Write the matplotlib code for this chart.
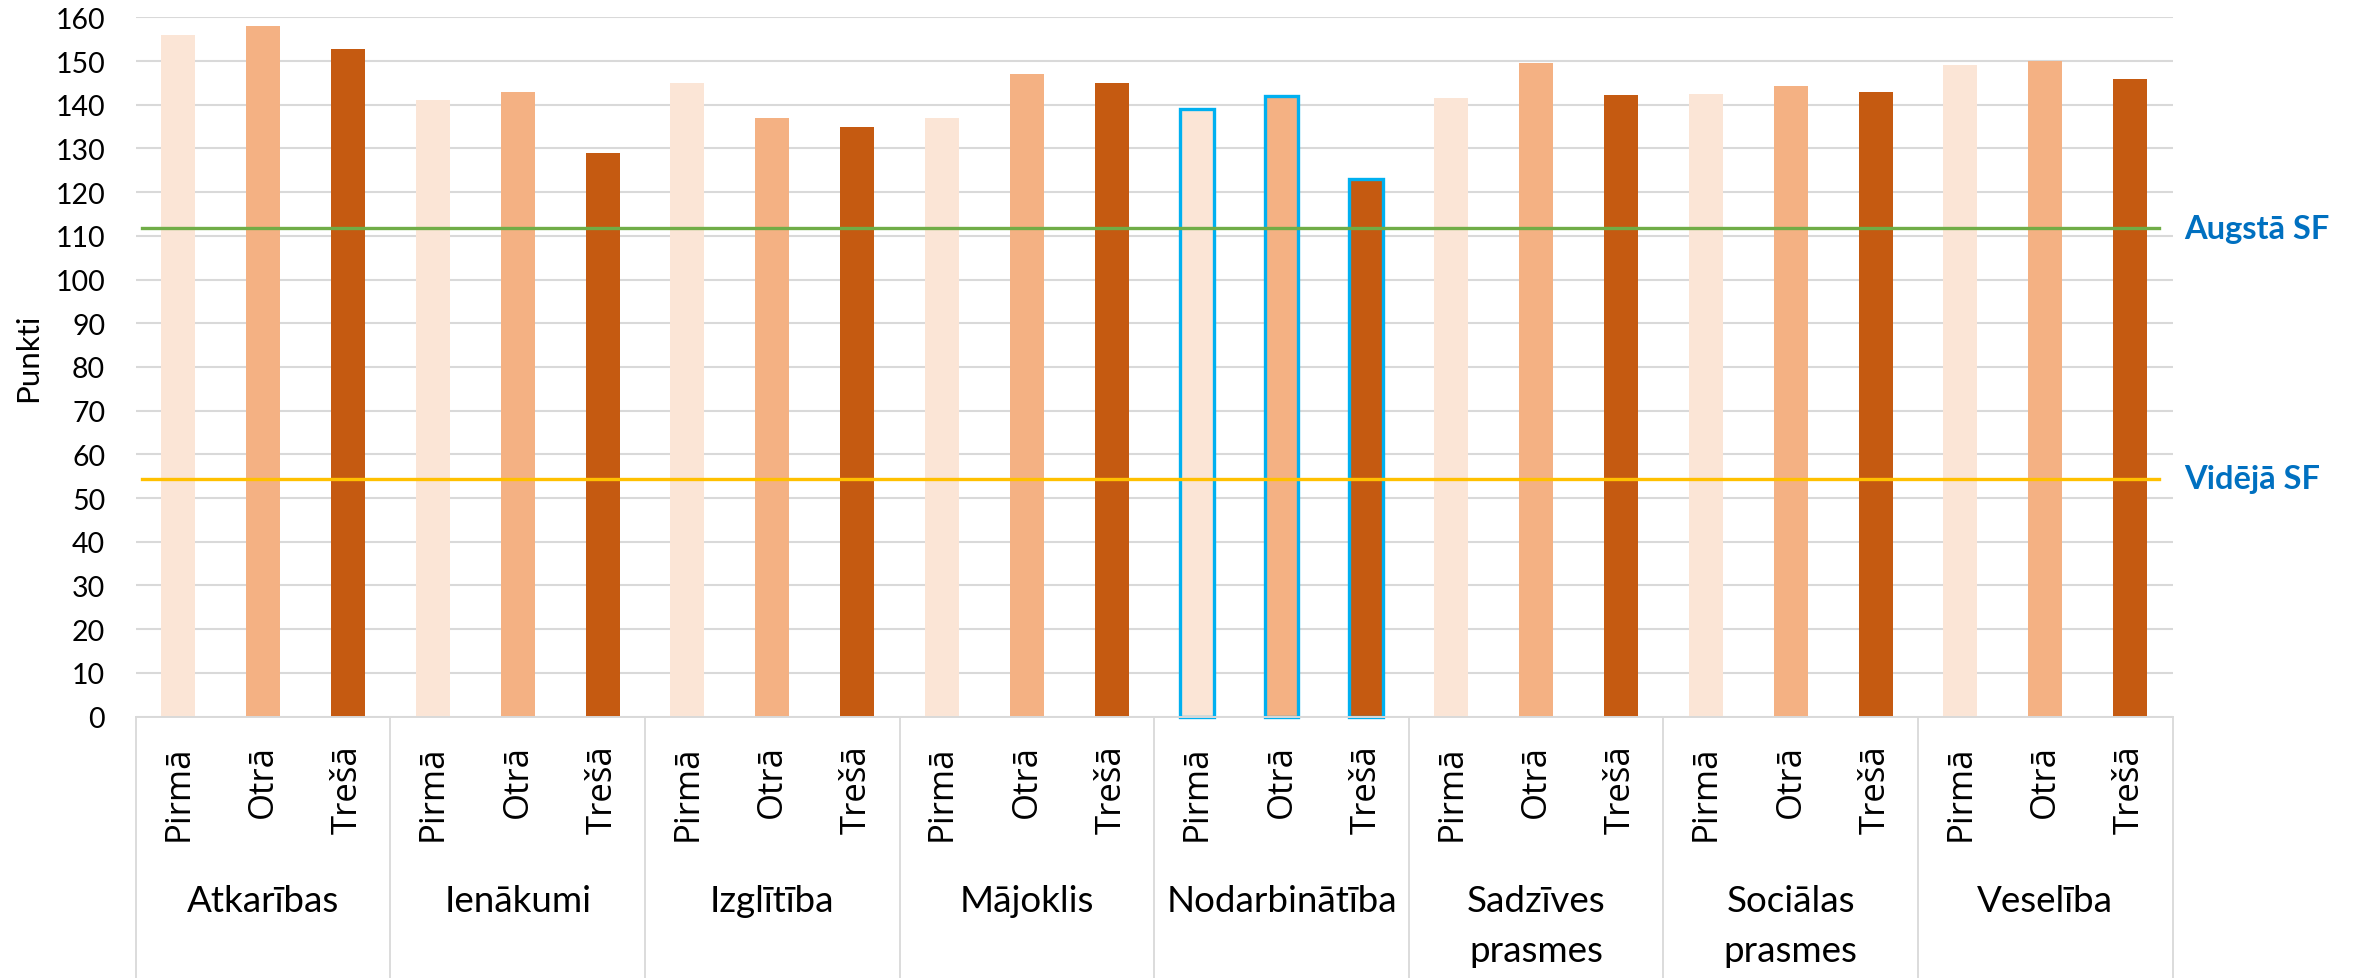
import numpy as np
import matplotlib
matplotlib.use("Agg")
import matplotlib.pyplot as plt
import matplotlib.transforms as mtransforms

# Data
groups = ["Atkarības", "Ienākumi", "Izglītība", "Mājoklis", "Nodarbinātība",
          "Sadzīves\nprasmes", "Sociālas\nprasmes", "Veselība"]
waves = ["Pirmā", "Otrā", "Trešā"]
pirma = [156, 141, 145, 137, 139, 141.5, 142.5, 149]
otra = [158, 143, 137, 147, 142, 149.5, 144.2, 150]
tresa = [152.8, 129, 135, 145, 123, 142.3, 143, 145.8]
augsta_sf = 111.7
videja_sf = 54.4
highlight_group = "Nodarbinātība"

colors = ["#FBE5D6", "#F4B183", "#C55A11"]
grid_col = "#D9D9D9"

plt.rcParams['font.family'] = ['Lato', 'DejaVu Sans']

fig = plt.figure(figsize=(23.61, 9.79), dpi=100)
ax = fig.add_axes([0.0575, 0.2671, 0.8627, 0.7142])

series = [pirma, otra, tresa]
n = len(groups)
for j, vals in enumerate(series):
    x = np.arange(n) * 3 + j + 0.5
    bars = ax.bar(x, vals, width=0.4, color=colors[j], zorder=2)
    for g, b in zip(groups, bars):
        if g == highlight_group:
            b.set_edgecolor("#00B0F0")
            b.set_linewidth(2.4)
            b.set_clip_on(False)

# reference lines
ax.plot([0.07, 3 * n - 0.16], [augsta_sf, augsta_sf], color="#70AD47", lw=2.4, zorder=3)
ax.plot([0.07, 3 * n - 0.16], [videja_sf, videja_sf], color="#FFC000", lw=2.4, zorder=3)

trans = mtransforms.blended_transform_factory(ax.transAxes, ax.transData)
ax.text(1.0055, augsta_sf, "Augstā SF", transform=trans, color="#0070C0",
        fontsize=23.5, fontweight="bold", va="center", ha="left")
ax.text(1.0055, videja_sf, "Vidējā SF", transform=trans, color="#0070C0",
        fontsize=23.5, fontweight="bold", va="center", ha="left")

ax.set_xlim(0, 3 * n)
ax.set_ylim(0, 160)
ax.set_yticks(np.arange(0, 161, 10))
ax.yaxis.grid(True, color=grid_col, lw=1.5, zorder=0)
ax.set_axisbelow(True)

ax.set_xticks(np.arange(3 * n) + 0.5)
ax.set_xticklabels(waves * n, rotation=90, fontsize=25, family=['Open Sans', 'DejaVu Sans'])
ax.tick_params(axis='x', length=0, pad=20)
ax.tick_params(axis='y', length=0, pad=22, labelsize=20.5)

for s in ["top", "right", "left"]:
    ax.spines[s].set_visible(False)
ax.spines["bottom"].set_color(grid_col)
ax.spines["bottom"].set_linewidth(1.4)

# category separators and group labels
xt = ax.get_xaxis_transform()
ax_h = ax.get_position().height * fig.get_figheight() * fig.dpi
bottom = -(979 - 717) / ax_h
for k in range(n + 1):
    ax.plot([3 * k, 3 * k], [0, bottom], transform=xt, color=grid_col, lw=1.3, clip_on=False)
for k, g in enumerate(groups):
    ax.text(3 * k + 1.5, -(884 - 717) / ax_h, g, transform=xt, ha="center", va="top",
            fontsize=26.5, linespacing=1.65)

fig.text(0.0119, 0.635, "Punkti", rotation=90, fontsize=22.5, ha="center", va="center")

fig.savefig("out.png", dpi=100)
